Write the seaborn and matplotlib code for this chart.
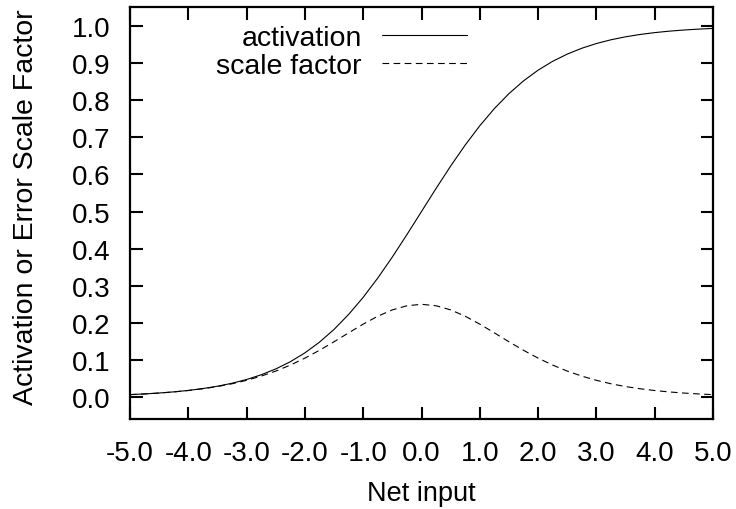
import matplotlib
matplotlib.use("Agg")
import matplotlib.pyplot as plt
import seaborn as sns
import pandas as pd

net_input = [-5.0, -4.75, -4.5, -4.25, -4.0, -3.75, -3.5, -3.25, -3.0, -2.75, -2.5, -2.25,
             -2.0, -1.75, -1.5, -1.25, -1.0, -0.75, -0.5, -0.25, 0.0, 0.25, 0.5, 0.75,
             1.0, 1.25, 1.5, 1.75, 2.0, 2.25, 2.5, 2.75, 3.0, 3.25, 3.5, 3.75, 4.0,
             4.25, 4.5, 4.75, 5.0]
activation = [0.0067, 0.0086, 0.0110, 0.0141, 0.0180, 0.0230, 0.0293, 0.0373, 0.0474,
              0.0601, 0.0759, 0.0953, 0.1192, 0.1480, 0.1824, 0.2227, 0.2689, 0.3208,
              0.3775, 0.4378, 0.5000, 0.5622, 0.6225, 0.6792, 0.7311, 0.7773, 0.8176,
              0.8520, 0.8808, 0.9047, 0.9241, 0.9399, 0.9526, 0.9627, 0.9707, 0.9770,
              0.9820, 0.9859, 0.9890, 0.9914, 0.9933]
scale_factor = [0.0066, 0.0085, 0.0109, 0.0139, 0.0177, 0.0225, 0.0284, 0.0359, 0.0452,
                0.0565, 0.0701, 0.0862, 0.1050, 0.1261, 0.1491, 0.1731, 0.1966, 0.2179,
                0.2350, 0.2461, 0.2500, 0.2461, 0.2350, 0.2179, 0.1966, 0.1731, 0.1491,
                0.1261, 0.1050, 0.0862, 0.0701, 0.0565, 0.0452, 0.0359, 0.0284, 0.0225,
                0.0177, 0.0139, 0.0109, 0.0085, 0.0066]
x_ticks = [-5.0, -4.0, -3.0, -2.0, -1.0, 0.0, 1.0, 2.0, 3.0, 4.0, 5.0]
y_ticks = [0.0, 0.1, 0.2, 0.3, 0.4, 0.5, 0.6, 0.7, 0.8, 0.9, 1.0]

sns.set_theme(style="ticks")
plt.rcParams['font.family'] = ['Liberation Sans', 'DejaVu Sans']
plt.rcParams['text.color'] = 'black'
plt.rcParams['axes.labelcolor'] = 'black'

df = pd.DataFrame({"x": net_input + net_input,
                   "y": activation + scale_factor,
                   "series": ["activation"] * len(net_input) + ["scale factor"] * len(net_input)})

fig = plt.figure(figsize=(7.36, 5.1), dpi=100)
ax = fig.add_axes([130/736, 1-420/510, (713-130)/736, (420-8)/510])

sns.lineplot(data=df, x="x", y="y", hue="series", style="series",
             palette={"activation": "black", "scale factor": "black"},
             dashes={"activation": "", "scale factor": (6, 4)},
             linewidth=0.8, ax=ax, legend=True)

ax.set_xlim(-5, 5)
ax.set_ylim(-0.059, 1.051)
ax.set_xticks(x_ticks)
ax.set_xticklabels([f"{v:.1f}" for v in x_ticks])
ax.set_yticks(y_ticks)
ax.set_yticklabels([f"{v:.1f}" for v in y_ticks])
ax.tick_params(direction="in", length=9, width=1.5, top=True, right=True,
               labelsize=20, colors="black")
ax.tick_params(axis="x", pad=15)
ax.tick_params(axis="y", pad=14)
for s in ax.spines.values():
    s.set_linewidth(1.6)
    s.set_color("black")
ax.set_xlabel("Net input", fontsize=19.5, labelpad=10, color="black")
ax.set_ylabel("Activation or Error Scale Factor", fontsize=20.5, color="black")
ax.yaxis.set_label_coords(-0.156, 0.517)

leg = ax.legend(frameon=False, markerfirst=False, loc="upper right",
                bbox_to_anchor=(467/736, 1-26/510), bbox_transform=fig.transFigure,
                fontsize=20.5, handlelength=3.0, handletextpad=0.7,
                borderpad=0, borderaxespad=0, labelspacing=0.08)
for h in leg.get_lines():
    h.set_linewidth(0.8)
for t in leg.get_texts():
    t.set_color("black")

fig.savefig("out.png", dpi=100)
